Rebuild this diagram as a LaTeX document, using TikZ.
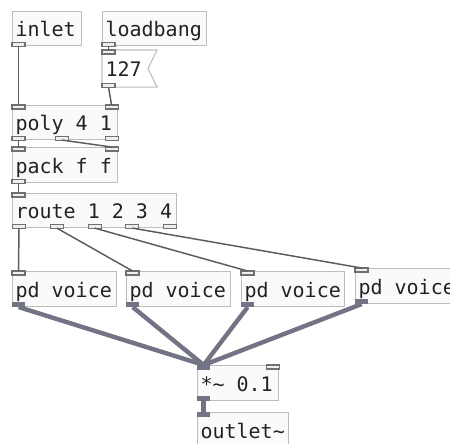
\documentclass[tikz,border=0pt]{standalone}
\usepackage{fontspec}
\newfontfamily\pdfont{DejaVu Sans Mono}
\protected\def\pdtext{\pdfont\fontsize{15}{15}\selectfont}
% one monospaced cell of blank space
\protected\def\pdsp{\hbox to 9.03pt{\char32\hss}}
\usetikzlibrary{calc}
\definecolor{boxline}{HTML}{BDBDBD}
\definecolor{boxfill}{HTML}{FAFAFA}
\definecolor{txt}{HTML}{222222}
\definecolor{ioline}{HTML}{707070}
\definecolor{iofill}{HTML}{EFEFEF}
\definecolor{sig}{HTML}{737386}
\definecolor{ctl}{HTML}{5C5C5C}
\begin{document}
\begin{tikzpicture}[x=0.75pt,y=-0.75pt,
  pdbox/.style={draw=boxline, fill=boxfill, line width=0.8pt, anchor=north west,
    inner xsep=2.25pt, inner ysep=0pt, text=txt,
    text height=13.5pt, text depth=1.5pt, minimum height=25.5pt,
    font=\pdtext},
  numbox/.style={pdbox, draw=none, fill=none},
  cio/.style={draw=ioline, fill=iofill, line width=0.8pt, inner sep=0pt, outer sep=0pt,
    minimum width=9.75pt, minimum height=3pt},
  sio/.style={draw=none, fill=sig, inner sep=0pt, outer sep=0pt,
    minimum width=10pt, minimum height=4pt},
  cwire/.style={draw=ctl, line width=1.1pt},
  swire/.style={draw=sig, line width=3.3pt}]
\useasboundingbox (0,0) rectangle (450,443);
\fill[white] (0,0) rectangle (450,443);

% object boxes
\node[pdbox, text width=47.25pt] (inlet) at (12,11) {inlet};
\node[pdbox, text width=73.5pt] (load) at (102,11) {loadbang};
% number box with its flag-shaped right edge
\node[numbox, text width=36pt, minimum height=27pt] (num) at (102,50) {127};
\draw[boxline, line width=0.8pt] (num.north west) -- (num.north east) -- ($(num.east)+(-9,0)$)
  -- (num.south east) -- (num.south west) -- cycle;
\node[pdbox, text width=74.25pt] (poly) at (12,105) {poly\pdsp4\pdsp1};
\node[pdbox, text width=74.25pt, minimum height=26.25pt] (pack) at (12,147) {pack\pdsp f\pdsp f};
\node[pdbox, text width=118.5pt] (route) at (12,193) {route\pdsp1\pdsp2\pdsp3\pdsp4};
\node[pdbox, text width=73.5pt, minimum height=26.25pt] (v1) at (12,271) {pd\pdsp voice};
\node[pdbox, text width=73.5pt, minimum height=26.25pt] (v2) at (126,271) {pd\pdsp voice};
\node[pdbox, text width=72.75pt, minimum height=26.25pt] (v3) at (241,271) {pd\pdsp voice};
\node[pdbox, text width=73.5pt, minimum height=26.25pt] (v4) at (355,268) {pd\pdsp voice};
\node[pdbox, text width=56.25pt, minimum height=26.25pt] (mul) at (197,365) {*\textasciitilde\pdsp0.1};
\node[pdbox, text width=63.75pt, minimum height=26.25pt] (out) at (197,412) {outlet\textasciitilde};

% inlets and outlets
\node[cio, anchor=south west] (inlet-o) at (inlet.south west) {};
\node[cio, anchor=south west] (load-o) at (load.south west) {};
\node[cio, anchor=north west] (num-i) at (num.north west) {};
\node[cio, anchor=south west] (num-o) at (num.south west) {};
\node[cio, anchor=north west] (poly-i0) at (poly.north west) {};
\node[cio, anchor=north east] (poly-i1) at (poly.north east) {};
\node[cio, anchor=south west] (poly-o0) at (poly.south west) {};
\node[cio, anchor=south] (poly-o1) at ($(poly.south west)!0.47!(poly.south east)$) {};
\node[cio, anchor=south east] (poly-o2) at (poly.south east) {};
\node[cio, anchor=north west] (pack-i0) at (pack.north west) {};
\node[cio, anchor=north east] (pack-i1) at (pack.north east) {};
\node[cio, anchor=south west] (pack-o0) at (pack.south west) {};
\node[cio, anchor=north west] (route-i0) at (route.north west) {};
\coordinate (rl) at ($(route.south west)+(7,0)$);
\coordinate (rr) at ($(route.south east)+(-7,0)$);
\node[cio, anchor=south] (route-o0) at (rl) {};
\node[cio, anchor=south] (route-o1) at ($(rl)!0.25!(rr)$) {};
\node[cio, anchor=south] (route-o2) at ($(rl)!0.5!(rr)$) {};
\node[cio, anchor=south] (route-o3) at ($(rl)!0.75!(rr)$) {};
\node[cio, anchor=south] (route-o4) at (rr) {};
\foreach \v in {v1,v2,v3,v4}{
  \node[cio, anchor=north west] (\v-i) at (\v.north west) {};
  \node[sio, anchor=south west] (\v-o) at (\v.south west) {};
}
\node[sio, anchor=north west] (mul-i0) at (mul.north west) {};
\node[cio, anchor=north east] (mul-i1) at (mul.north east) {};
\node[sio, anchor=south west] (mul-o) at (mul.south west) {};
\node[sio, anchor=north west] (out-i) at (out.north west) {};

% control connections
\draw[cwire] (inlet-o.south) -- (poly-i0.north);
\draw[cwire] (load-o.south) -- (num-i.north);
\draw[cwire] (num-o.south) -- (poly-i1.north);
\draw[cwire] (poly-o0.south) -- (pack-i0.north);
\draw[cwire] (poly-o1.south) -- (pack-i1.north);
\draw[cwire] (pack-o0.south) -- (route-i0.north);
\draw[cwire] (route-o0.south) -- (v1-i.north);
\draw[cwire] (route-o1.south) -- (v2-i.north);
\draw[cwire] (route-o2.south) -- (v3-i.north);
\draw[cwire] (route-o3.south) -- (v4-i.north);

% signal connections
\foreach \v in {v1,v2,v3,v4}{
  \draw[swire] (\v-o.south) -- (mul-i0.north);
}
\draw[swire] (mul-o.south) -- (out-i.north);
\end{tikzpicture}
\end{document}
